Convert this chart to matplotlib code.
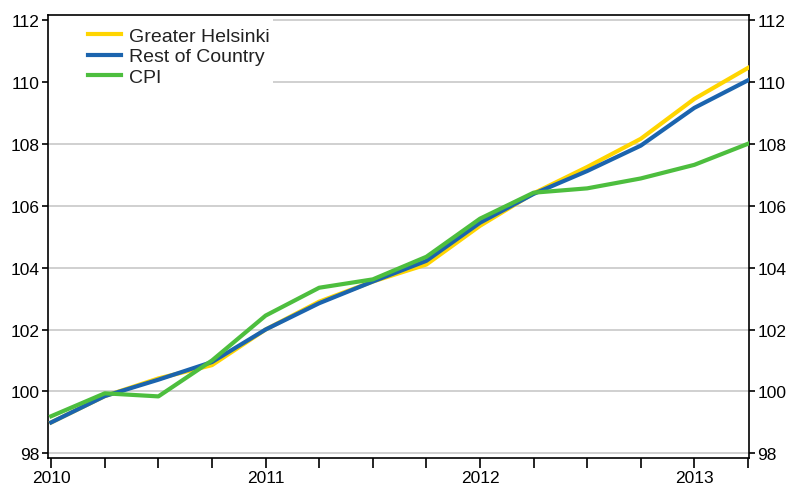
import matplotlib
matplotlib.use("Agg")
import matplotlib.pyplot as plt
from matplotlib.ticker import FixedLocator, MultipleLocator
from matplotlib.patches import Rectangle

quarters = ["2010Q1", "2010Q2", "2010Q3", "2010Q4",
            "2011Q1", "2011Q2", "2011Q3", "2011Q4",
            "2012Q1", "2012Q2", "2012Q3", "2012Q4",
            "2013Q1", "2013Q2"]
greater_helsinki = [99.0, 99.85, 100.42, 100.85, 102.0, 102.9, 103.55, 104.1,
                    105.35, 106.4, 107.25, 108.16, 109.45, 110.45]
rest_of_country = [99.0, 99.85, 100.38, 100.95, 102.0, 102.85, 103.55, 104.22,
                   105.45, 106.38, 107.12, 107.94, 109.16, 110.05]
cpi = [99.2, 99.94, 99.84, 101.0, 102.45, 103.35, 103.62, 104.35,
       105.58, 106.42, 106.56, 106.88, 107.32, 108.0]
year_labels = ["2010", "2011", "2012", "2013"]

plt.rcParams['font.family'] = ['Liberation Sans', 'DejaVu Sans']

fig = plt.figure(figsize=(7.9, 4.89), dpi=100)
ax = fig.add_axes([48/790, 1-459/489, (749-48)/790, (459-16)/489])

x = list(range(len(quarters)))
ax.plot(x, greater_helsinki, color='#FFD500', lw=3.0, label='Greater Helsinki', zorder=3)
ax.plot(x, rest_of_country, color='#1B64AE', lw=3.0, label='Rest of Country', zorder=4)
ax.plot(x, cpi, color='#4DBE3E', lw=3.0, label='CPI', zorder=5)

ax.set_xlim(-0.06, 13.02)
ax.set_ylim(97.85, 112.16)
ax.yaxis.set_major_locator(MultipleLocator(2))
ax.grid(axis='y', color='#c8c8c8', lw=1.2, zorder=0)
ax.set_axisbelow(True)

# white box behind legend (covers gridlines)
ax.add_patch(Rectangle((0, 1 - (92-16)/443), (273-48)/701, (92-16)/443,
                       transform=ax.transAxes, facecolor='white', edgecolor='none', zorder=1.5))

ax.xaxis.set_major_locator(FixedLocator([0, 4, 8, 12]))
ax.set_xticklabels(year_labels)
ax.xaxis.set_minor_locator(FixedLocator(x))
ax.tick_params(axis='x', which='both', length=7, width=1.2, direction='out', labelsize=12.5, pad=2, color='black')

ax.tick_params(axis='y', which='both', length=4, width=1.2, direction='out', labelsize=12.5,
               left=True, right=True, labelleft=True, labelright=True, pad=2)

for s in ax.spines.values():
    s.set_color('black')
    s.set_linewidth(1.2)

leg = ax.legend(loc='upper left', bbox_to_anchor=(40/701, 1 - 12/443), frameon=False, fontsize=14,
                handlelength=1.7, handletextpad=0.41, labelspacing=0.16,
                borderpad=0.0, borderaxespad=0.0)
leg.set_zorder(10)
for t in leg.get_texts():
    t.set_color('#222222')

fig.savefig('out.png', dpi=100)
